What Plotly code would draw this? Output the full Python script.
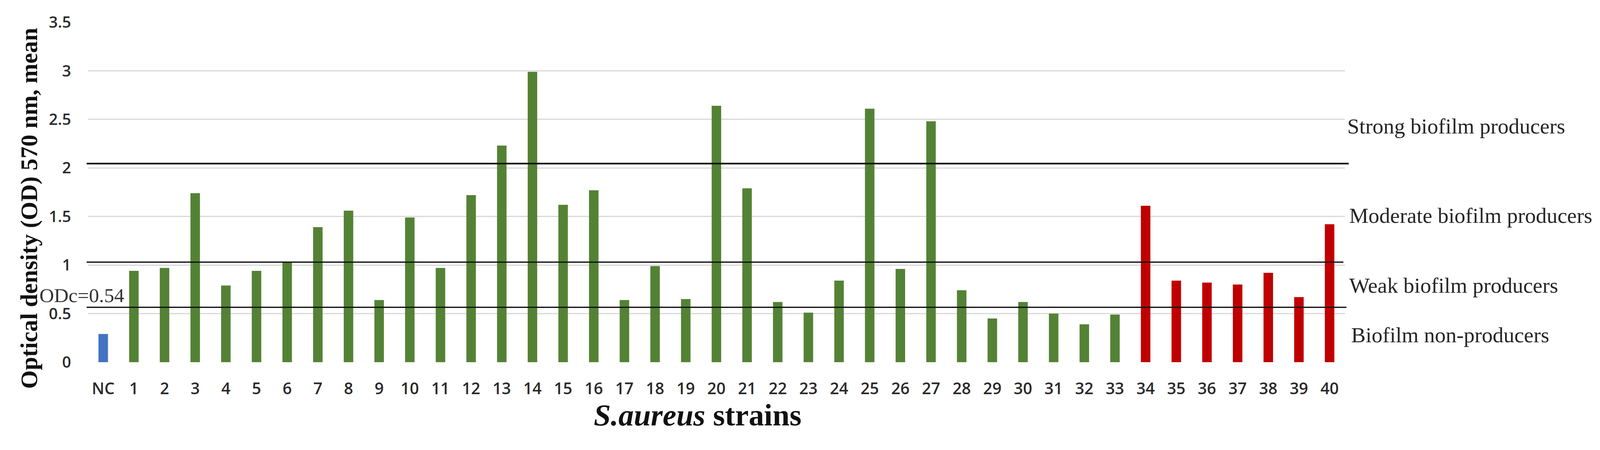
import plotly.graph_objects as go

# ---- data ----
control_label = ["NC"]
control_values = [0.29]

green_labels = [str(i) for i in range(1, 34)]
green_values = [0.94, 0.97, 1.74, 0.79, 0.94, 1.03, 1.39, 1.56, 0.64, 1.49,
                0.97, 1.72, 2.23, 2.99, 1.62, 1.77, 0.64, 0.99, 0.65, 2.64,
                1.79, 0.62, 0.51, 0.84, 2.61, 0.96, 2.48, 0.74, 0.45, 0.62,
                0.50, 0.39, 0.49]

red_labels = [str(i) for i in range(34, 41)]
red_values = [1.61, 0.84, 0.82, 0.80, 0.92, 0.67, 1.42]

categories = control_label + green_labels + red_labels

threshold_values = [0.565, 1.03, 2.045]
threshold_ends = [1.0012, 0.9988, 1.0030]
threshold_widths = [3.5, 3.5, 4.5]

class_labels = ["Strong biofilm producers", "Moderate biofilm producers",
                "Weak biofilm producers", "Biofilm non-producers"]
class_label_y = [2.43, 1.51, 0.79, 0.28]
class_label_x = [1.0012, 1.0027, 1.0027, 1.0045]

y_ticks = [0, 0.5, 1, 1.5, 2, 2.5, 3, 3.5]
y_tick_text = ["0", "0.5", "1", "1.5", "2", "2.5", "3", "3.5"]

odc_text = "ODc=0.54"
y_title = "Optical density (OD) 570 nm, mean"
x_title = "<b><i>S.aureus</i> strains</b>"

# ---- figure ----
S = 0.9568  # compensates the rendering scale seen in the photographed page


def px(v):
    return v * S


W, H = round(4281 * S), round(1153 * S)
fig = go.Figure()
bar_w = 0.31
fig.add_trace(go.Bar(x=control_label, y=control_values, width=bar_w,
                     marker=dict(color="#4472C4", line=dict(width=0)), showlegend=False))
fig.add_trace(go.Bar(x=green_labels, y=green_values, width=bar_w,
                     marker=dict(color="#548235", line=dict(width=0)), showlegend=False))
fig.add_trace(go.Bar(x=red_labels, y=red_values, width=bar_w,
                     marker=dict(color="#C00000", line=dict(width=0)), showlegend=False))

for v, x1, lw in zip(threshold_values, threshold_ends, threshold_widths):
    fig.add_shape(type="line", xref="paper", yref="y", x0=-0.001, x1=x1, y0=v, y1=v,
                  line=dict(color="#111111", width=px(lw)), layer="above")

serif = "Liberation Serif, Times New Roman, serif"
for txt, yy, xx in zip(class_labels, class_label_y, class_label_x):
    fig.add_annotation(text=txt, xref="paper", yref="y", x=xx, y=yy,
                       xanchor="left", yanchor="middle", showarrow=False,
                       font=dict(family=serif, size=px(58), color="#262626"))

fig.add_annotation(text=odc_text, xref="paper", yref="y", x=-0.0393, y=0.69,
                   xanchor="left", yanchor="middle", showarrow=False,
                   font=dict(family=serif, size=px(54), color="#333333"))

fig.add_annotation(text="<b>" + y_title + "</b>", xref="paper", yref="paper",
                   x=-0.0467, y=0.453, xanchor="center", yanchor="middle",
                   textangle=-90, showarrow=False,
                   font=dict(family=serif, size=px(64), color="#111111"))

fig.add_annotation(text=x_title, xref="paper", yref="paper",
                   x=0.485, y=-0.155, xanchor="center", yanchor="middle",
                   showarrow=False, font=dict(family=serif, size=px(82), color="#111111"))

fig.update_layout(
    width=W, height=H,
    margin=dict(l=px(227), r=px(691), t=px(51), b=px(191)),
    paper_bgcolor="white", plot_bgcolor="white",
    barmode="overlay",
    xaxis=dict(type="category", categoryorder="array", categoryarray=categories,
               showgrid=False, showline=False, zeroline=False, ticks="",
               ticklabelstandoff=round(px(42)),
               tickfont=dict(family="Open Sans, sans-serif", size=px(43), color="#2b2b2b", weight=600)),
    yaxis=dict(range=[0, 3.5], tickvals=y_ticks, ticktext=y_tick_text,
               showgrid=True, gridcolor="#d9d9d9", gridwidth=px(3),
               zeroline=False, showline=False, ticks="",
               ticklabelstandoff=round(px(44)),
               tickfont=dict(family="Open Sans, sans-serif", size=px(42), color="#2b2b2b", weight=600)),
)

fig.write_html("out.html")
